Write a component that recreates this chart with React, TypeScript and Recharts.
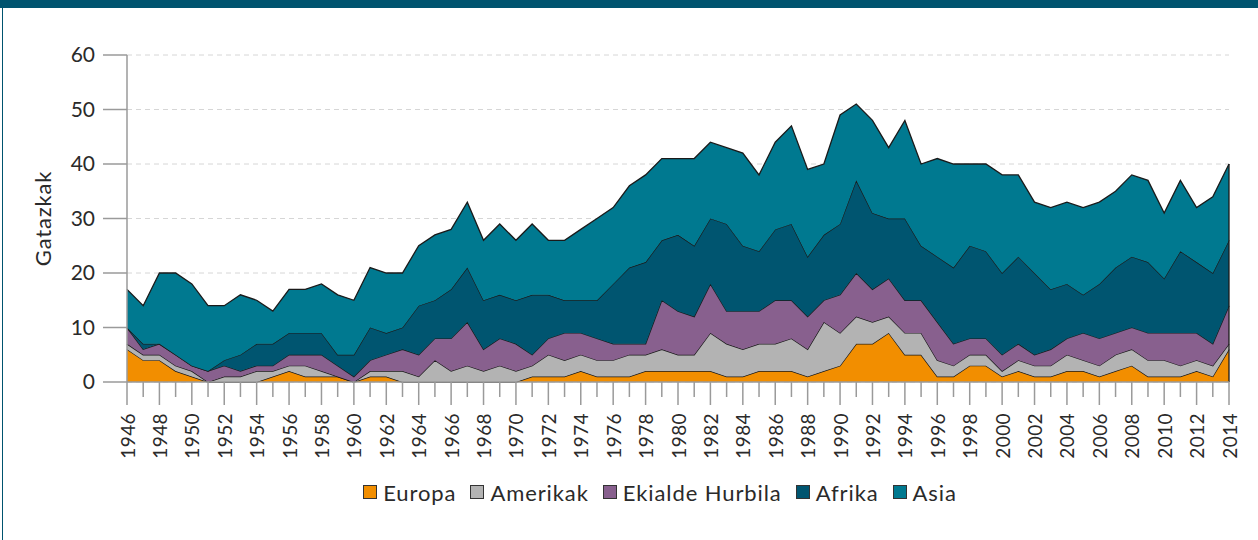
import React from 'react';
import { AreaChart, Area, XAxis, YAxis, CartesianGrid, Legend, ReferenceLine } from 'recharts';

const years = [
  '1946', '1947', '1948', '1949', '1950', '1951', '1952', '1953', '1954', '1955',
  '1956', '1957', '1958', '1959', '1960', '1961', '1962', '1963', '1964', '1965',
  '1966', '1967', '1968', '1969', '1970', '1971', '1972', '1973', '1974', '1975',
  '1976', '1977', '1978', '1979', '1980', '1981', '1982', '1983', '1984', '1985',
  '1986', '1987', '1988', '1989', '1990', '1991', '1992', '1993', '1994', '1995',
  '1996', '1997', '1998', '1999', '2000', '2001', '2002', '2003', '2004', '2005',
  '2006', '2007', '2008', '2009', '2010', '2011', '2012', '2013', '2014',
];

// conflicts per region
const europa = [
  6, 4, 4, 2, 1, 0, 0, 0, 0, 1, 2, 1, 1, 1, 0, 1, 1, 0, 0, 0,
  0, 0, 0, 0, 0, 1, 1, 1, 2, 1, 1, 1, 2, 2, 2, 2, 2, 1, 1, 2,
  2, 2, 1, 2, 3, 7, 7, 9, 5, 5, 1, 1, 3, 3, 1, 2, 1, 1, 2, 2,
  1, 2, 3, 1, 1, 1, 2, 1, 6,
];
const amerikak = [
  1, 1, 1, 1, 1, 0, 1, 1, 2, 1, 1, 2, 1, 0, 0, 1, 1, 2, 1, 4,
  2, 3, 2, 3, 2, 2, 4, 3, 3, 3, 3, 4, 3, 4, 3, 3, 7, 6, 5, 5,
  5, 6, 5, 9, 6, 5, 4, 3, 4, 4, 3, 2, 2, 2, 1, 2, 2, 2, 3, 2,
  2, 3, 3, 3, 3, 2, 2, 2, 1,
];
const ekialdeHurbila = [
  3, 1, 2, 2, 1, 2, 2, 1, 1, 1, 2, 2, 3, 2, 1, 2, 3, 4, 4, 4,
  6, 8, 4, 5, 5, 2, 3, 5, 4, 4, 3, 2, 2, 9, 8, 7, 9, 6, 7, 6,
  8, 7, 6, 4, 7, 8, 6, 7, 6, 6, 7, 4, 3, 3, 3, 3, 2, 3, 3, 5,
  5, 4, 4, 5, 5, 6, 5, 4, 7,
];
const afrika = [
  0, 1, 0, 0, 0, 0, 1, 3, 4, 4, 4, 4, 4, 2, 4, 6, 4, 4, 9, 7,
  9, 10, 9, 8, 8, 11, 8, 6, 6, 7, 11, 14, 15, 11, 14, 13, 12, 16, 12, 11,
  13, 14, 11, 12, 13, 17, 14, 11, 15, 10, 12, 14, 17, 16, 15, 16, 15, 11, 10, 7,
  10, 12, 13, 13, 10, 15, 13, 13, 12,
];
const asia = [
  7, 7, 13, 15, 15, 12, 10, 11, 8, 6, 8, 8, 9, 11, 10, 11, 11, 10, 11, 12,
  11, 12, 11, 13, 11, 13, 10, 11, 13, 15, 14, 15, 16, 15, 14, 16, 14, 14, 17, 14,
  16, 18, 16, 13, 20, 14, 17, 13, 18, 15, 18, 19, 15, 16, 18, 15, 13, 15, 15, 16,
  15, 14, 15, 15, 12, 13, 10, 14, 14,
];

const yTicks = [0, 10, 20, 30, 40, 50, 60];

const seriesList = [
  { key: 'europa', name: 'Europa', color: '#f28e00' },
  { key: 'amerikak', name: 'Amerikak', color: '#b3b3b3' },
  { key: 'ekialdeHurbila', name: 'Ekialde Hurbila', color: '#88608e' },
  { key: 'afrika', name: 'Afrika', color: '#005570' },
  { key: 'asia', name: 'Asia', color: '#007990' },
];

const data = years.map((year, i) => ({
  year,
  europa: europa[i],
  amerikak: amerikak[i],
  ekialdeHurbila: ekialdeHurbila[i],
  afrika: afrika[i],
  asia: asia[i],
}));

const lastIndex = years.length - 1;
const lastTotal = europa[lastIndex] + amerikak[lastIndex] + ekialdeHurbila[lastIndex] + afrika[lastIndex] + asia[lastIndex];

const FONT = "Lato, 'Open Sans', sans-serif";
const AXIS = '#9a9a9a';
const TEXT = '#2a2a2a';

// every year gets a tick, only even years get a (rotated) label
const YearTick = (props: any) => {
  const { x, y, payload } = props;
  const even = Number(payload.value) % 2 === 0;
  const ty = y + 31;
  return (
    <g>
      <line x1={x} y1={y} x2={x} y2={y + (even ? 23 : 15)} stroke={AXIS} strokeWidth={1.5} />
      {even && (
        <text
          x={x}
          y={ty}
          transform={`rotate(-90 ${x} ${ty})`}
          textAnchor="end"
          dominantBaseline="central"
          fontSize={19}
          fontFamily={FONT}
          letterSpacing={0.4}
          fill={TEXT}
        >
          {payload.value}
        </text>
      )}
    </g>
  );
};

const renderLegend = () => (
  <div
    style={{
      display: 'flex',
      justifyContent: 'center',
      alignItems: 'center',
      height: 30,
      paddingLeft: 76,
      boxSizing: 'border-box',
      fontFamily: FONT,
      fontSize: 22,
      letterSpacing: 0.9,
      color: TEXT,
    }}
  >
    {seriesList.map((s) => (
      <div key={s.key} style={{ display: 'flex', alignItems: 'center', marginRight: 14 }}>
        <span
          style={{
            display: 'inline-block',
            width: 14,
            height: 14,
            boxSizing: 'border-box',
            background: s.color,
            border: '1.5px solid #333',
            marginRight: 6,
          }}
        />
        {s.name}
      </div>
    ))}
  </div>
);

const App: React.FC = () => {
  return (
    <div style={{ position: 'fixed', left: 0, top: 0, width: 1258, height: 540, background: '#fff', overflow: 'hidden' }}>
      <div style={{ position: 'absolute', left: 0, top: 0, width: 1258, height: 8, background: '#00546f' }} />
      <div style={{ position: 'absolute', left: 2, top: 0, width: 1, height: 540, background: '#00546f' }} />
      <AreaChart
        width={1258}
        height={540}
        data={data}
        margin={{ top: 55, right: 29, left: 0, bottom: 0 }}
        style={{ fontFamily: FONT }}
      >
        <CartesianGrid vertical={false} strokeDasharray="5 4" stroke="#d6d6d6" />
        <XAxis
          dataKey="year"
          interval={0}
          tickLine={false}
          tickSize={0}
          tickMargin={0}
          height={128}
          axisLine={{ stroke: AXIS, strokeWidth: 1.5 }}
          tick={<YearTick />}
        />
        <YAxis
          width={127}
          domain={[0, 60]}
          ticks={yTicks}
          interval={0}
          tickSize={24}
          tickMargin={8}
          tickLine={{ stroke: AXIS, strokeWidth: 1.5 }}
          axisLine={{ stroke: AXIS, strokeWidth: 1.5 }}
          tick={{ fill: TEXT, fontSize: 21, fontFamily: FONT }}
          label={{
            content: ({ viewBox }: any) => (
              <text
                x={viewBox.x + 42}
                y={viewBox.y + viewBox.height / 2}
                transform={`rotate(-90 ${viewBox.x + 42} ${viewBox.y + viewBox.height / 2})`}
                textAnchor="middle"
                dominantBaseline="central"
                fontSize={22}
                letterSpacing={0.8}
                fontFamily={FONT}
                fill={TEXT}
              >
                Gatazkak
              </text>
            ),
          }}
        />
        {seriesList.map((s) => (
          <Area
            key={s.key}
            type="linear"
            dataKey={s.key}
            name={s.name}
            stackId="1"
            stroke="#1a1a1a"
            strokeWidth={1.3}
            fill={s.color}
            fillOpacity={1}
            isAnimationActive={false}
            dot={false}
            activeDot={false}
          />
        ))}
        <ReferenceLine
          segment={[
            { x: years[lastIndex], y: 0 },
            { x: years[lastIndex], y: lastTotal },
          ]}
          stroke="#1a1a1a"
          strokeWidth={1.3}
          ifOverflow="visible"
        />
        <Legend
          verticalAlign="bottom"
          content={renderLegend}
          wrapperStyle={{ left: 0, top: 477, width: 1258, height: 30 }}
        />
      </AreaChart>
    </div>
  );
};

export default App;
